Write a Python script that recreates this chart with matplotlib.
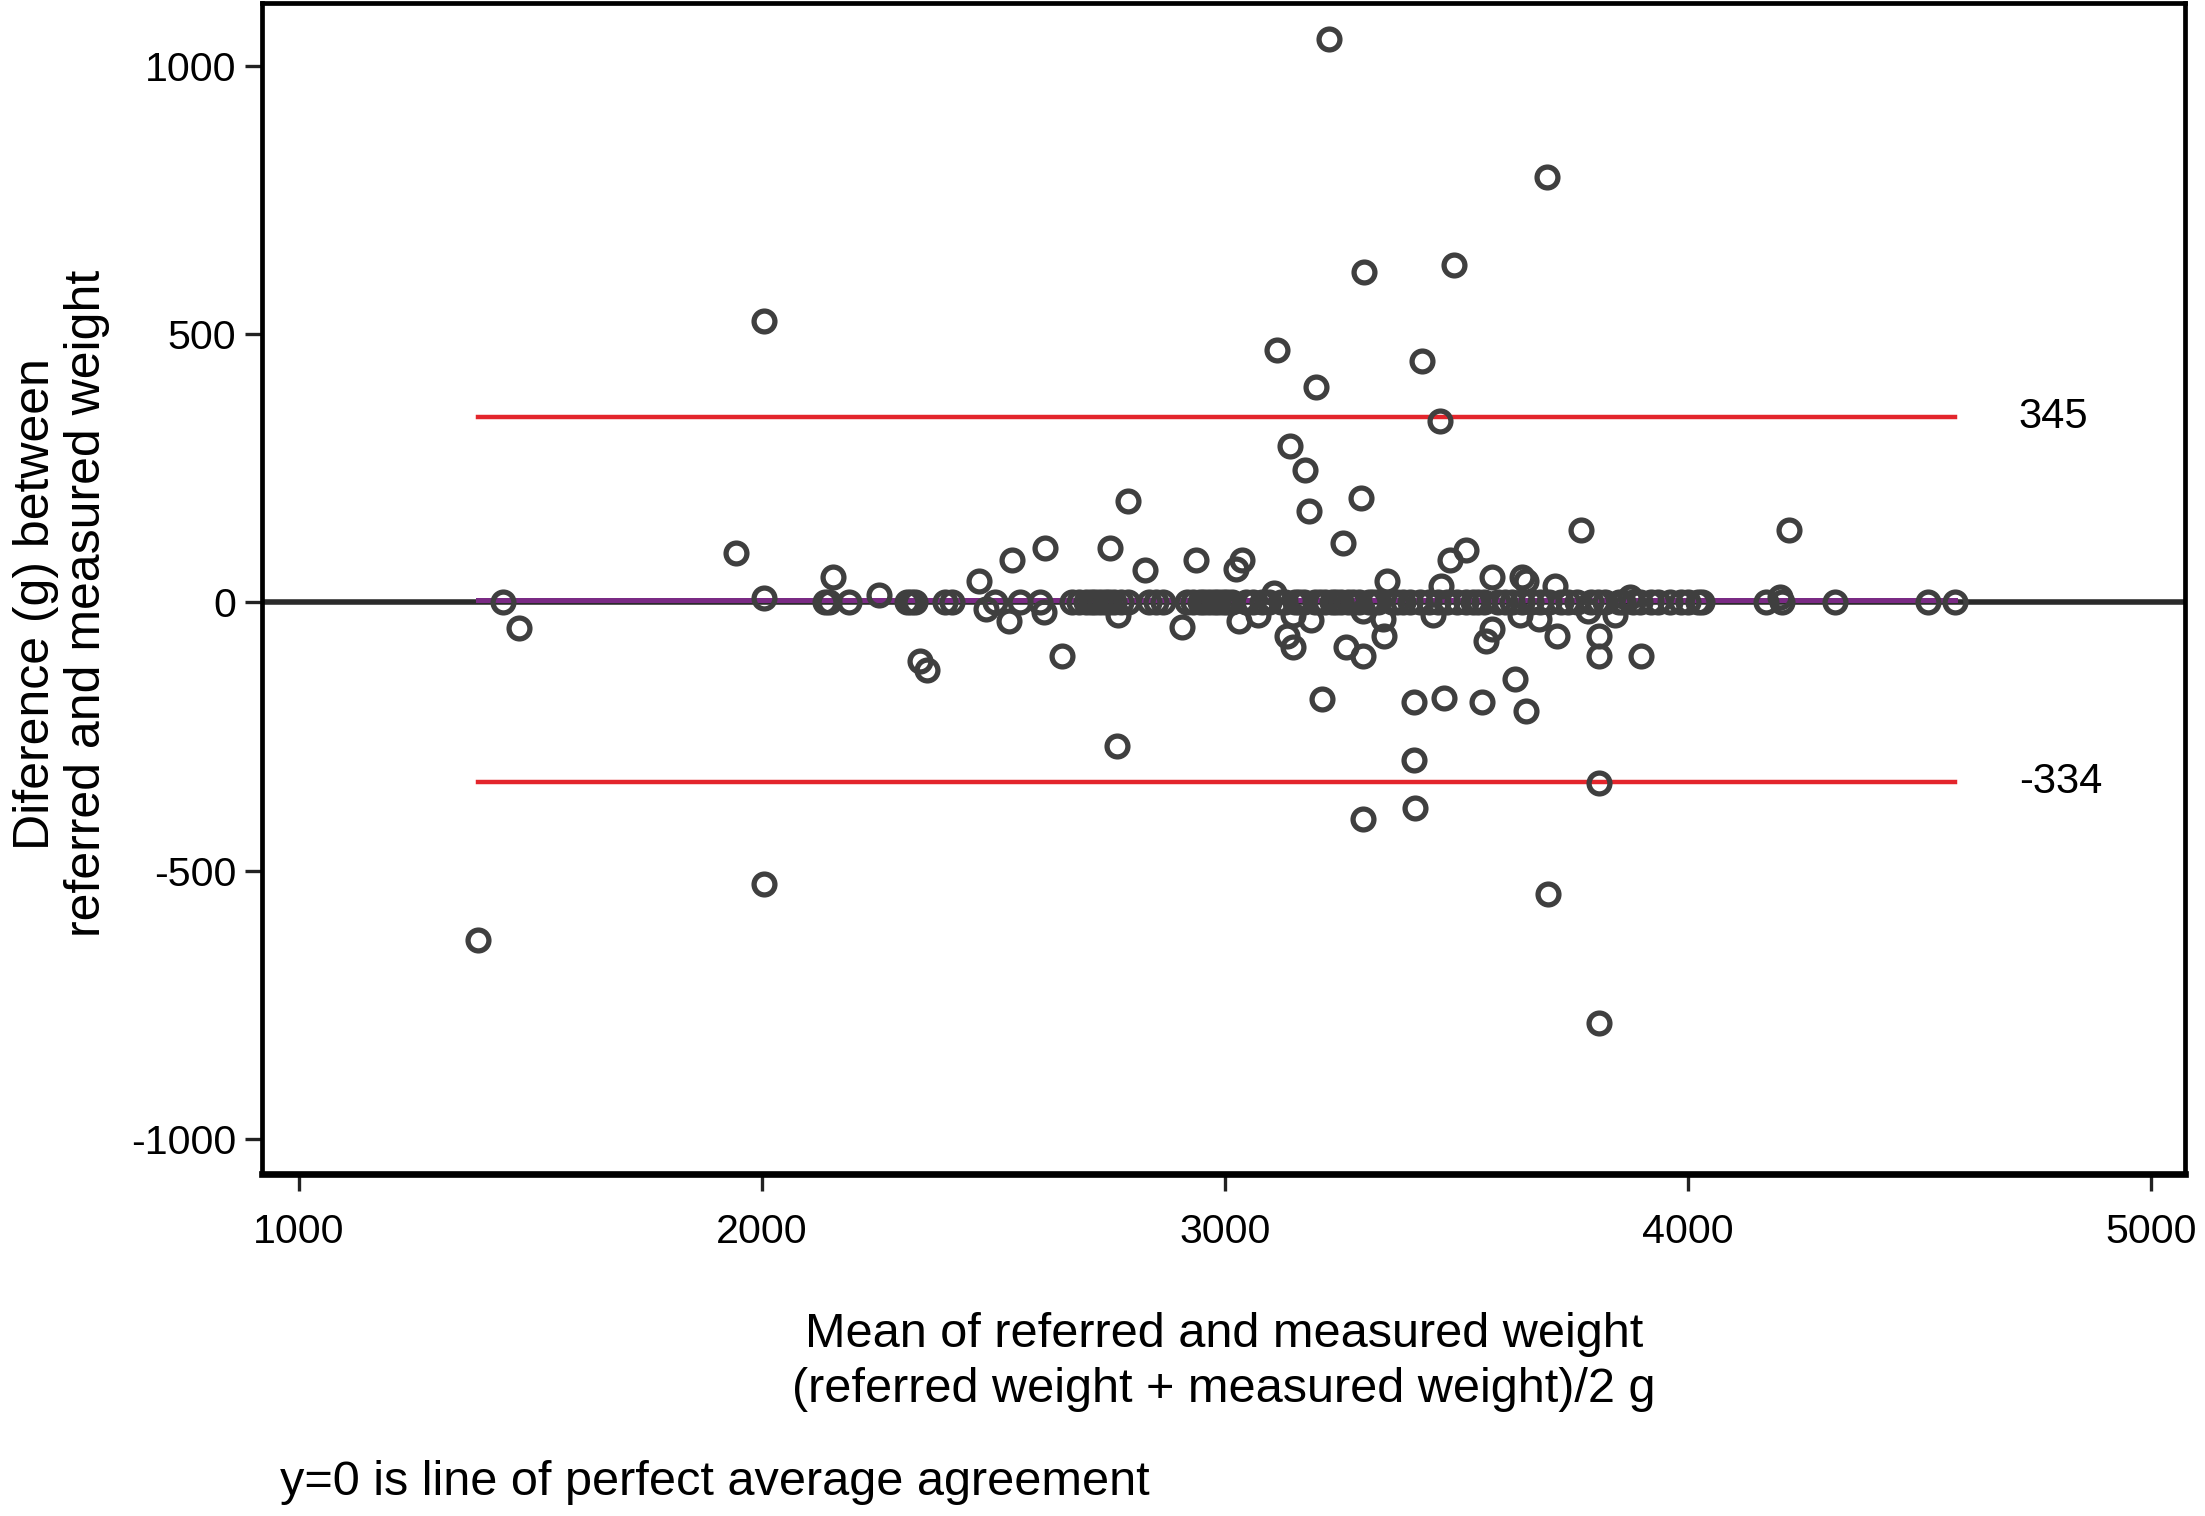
import matplotlib.pyplot as plt

plt.rcParams['font.family'] = ['Liberation Sans', 'DejaVu Sans']
plt.rcParams['axes.unicode_minus'] = False

# mean of referred and measured weight (g), difference (g)
mean_w = [1386, 1440, 1476, 1944, 2005, 2005, 2005, 2135, 2145, 2153, 2187, 2253,
          2314, 2322, 2330, 2342, 2357, 2396, 2411, 2469, 2484, 2502, 2533, 2539,
          2557, 2600, 2608, 2612, 2648, 2670, 2685, 2700, 2710, 2720, 2730, 2740,
          2751, 2750, 2760, 2766, 2769, 2775, 2791, 2791, 2827, 2836, 2850, 2865,
          2906, 2918, 2930, 2936, 2945, 2955, 2965, 2975, 2985, 2995, 3005, 3015,
          3024, 3030, 3036, 3045, 3060, 3070, 3080, 3095, 3106, 3112, 3120, 3130,
          3133, 3140, 3146, 3146, 3150, 3160, 3170, 3173, 3182, 3185, 3195, 3197,
          3205, 3209, 3215, 3224, 3230, 3240, 3250, 3255, 3261, 3265, 3275, 3290,
          3294, 3297, 3297, 3297, 3300, 3310, 3320, 3330, 3340, 3343, 3349, 3360,
          3370, 3385, 3400, 3407, 3407, 3410, 3420, 3425, 3440, 3449, 3460, 3464,
          3467, 3473, 3480, 3485, 3494, 3500, 3519, 3520, 3535, 3545, 3555, 3560,
          3564, 3576, 3576, 3590, 3605, 3620, 3625, 3637, 3640, 3640, 3649, 3649,
          3660, 3677, 3680, 3695, 3698, 3700, 3713, 3716, 3725, 3740, 3760, 3768,
          3783, 3790, 3805, 3807, 3807, 3807, 3807, 3820, 3841, 3850, 3860, 3874,
          3880, 3895, 3898, 3920, 3935, 3960, 3985, 4000, 4020, 4029, 4168, 4199,
          4202, 4217, 4317, 4517, 4575]
diff_w = [-630, 0, -47, 92, 525, 8, -525, 0, 0, 47, 0, 13,
          0, 0, 0, -110, -126, 0, 0, 40, -13, 0, -34, 79,
          0, 0, -18, 102, -100, 0, 0, 0, 0, 0, 0, 0,
          102, 0, 0, -268, -24, 0, 189, 0, 60, 0, 0, 0,
          -45, 0, 0, 79, 0, 0, 0, 0, 0, 0, 0, 0,
          63, -34, 79, 0, 0, -24, 0, 0, 18, 470, 0, 0,
          -63, 291, -84, -24, 0, 0, 0, 247, 171, -32, 0, 402,
          0, -181, 0, 1050, 0, 0, 0, 110, -84, 0, 0, 0,
          194, -404, -100, -16, 617, 0, 0, 0, -31, -63, 40, 0,
          0, 0, 0, -186, -294, -383, 0, 451, 0, -24, 0, 339,
          31, -178, 0, 79, 630, 0, 97, 0, 0, 0, -186, 0,
          -71, 47, -50, 0, 0, 0, -142, -24, 47, 0, 40, -202,
          0, -31, 0, 793, -543, 0, 31, -63, 0, 0, 0, 136,
          -16, 0, 0, -63, -100, -336, -785, 0, -24, 0, 0, 10,
          0, 0, -100, 0, 0, 0, 0, 0, 0, 0, 0, 10,
          0, 136, 0, 0, 0]

bias = 5
upper = 345
lower = -334

fig = plt.figure(figsize=(11.025, 7.58), dpi=200)
ax = fig.add_axes([0.119, 0.2256, 0.872, 0.7724])

ax.axhline(0, color='#2b2b2b', lw=2.0, zorder=1)
xmin, xmax = min(mean_w), max(mean_w)
ax.plot([xmin, xmax], [upper, upper], color='#e3252c', lw=1.6, zorder=2)
ax.plot([xmin, xmax], [lower, lower], color='#e3252c', lw=1.6, zorder=2)
ax.plot([xmin, xmax], [bias, bias], color='#7a2a84', lw=1.8, zorder=2)

ax.plot(mean_w, diff_w, 'o', mfc='none', mec='#3f3f3f', ms=7.5, mew=1.9, zorder=3)

ax.text(4714, upper, str(upper), va='center', ha='left', fontsize=15)
ax.text(4714, lower, str(lower), va='center', ha='left', fontsize=15)

ax.set_xlim(921, 5073)
ax.set_ylim(-1066, 1118)
ax.set_xticks([1000, 2000, 3000, 4000, 5000])
ax.set_yticks([-1000, -500, 0, 500, 1000])
ax.tick_params(axis='both', labelsize=14.8, width=1.2, length=6, color='#222222')
ax.tick_params(axis='x', pad=8)
for s in ax.spines.values():
    s.set_linewidth(1.7)
ax.spines['bottom'].set_linewidth(2.4)

ax.set_ylabel('Diference (g) between\nreferred and measured weight', fontsize=18, linespacing=1.15)
ax.yaxis.set_label_coords(-0.079, 0.487)
ax.set_xlabel('Mean of referred and measured weight\n(referred weight + measured weight)/2 g',
              fontsize=17.5, labelpad=22, linespacing=1.3)
fig.text(0.127, 0.007, 'y=0 is line of perfect average agreement', fontsize=17.5, ha='left', va='bottom')

plt.savefig('out.png')
